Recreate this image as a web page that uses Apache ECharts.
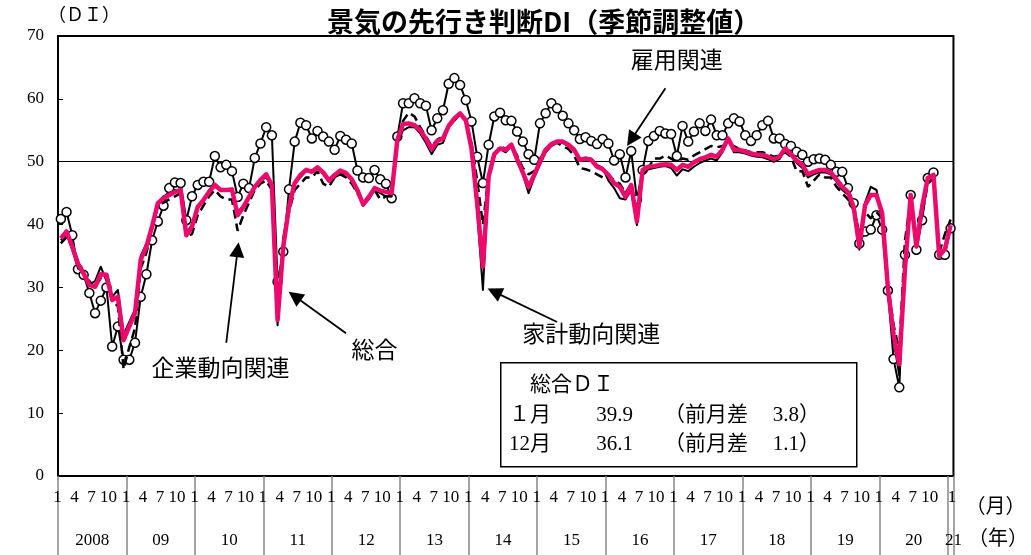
<!DOCTYPE html>
<html><head><meta charset="utf-8">
<script src="https://cdn.jsdelivr.net/npm/echarts@6/dist/echarts.min.js"></script>
<style>html,body{margin:0;padding:0;background:#fff}#c{width:1031px;height:555px}</style>
</head><body><div id="c"></div>
<script>
// ---- data ----
const yearLabels = ['2008','09','10','11','12','13','14','15','16','17','18','19','20','21'];
const monthLabelText = '1  4  7 10';
const categories = [];
for (let y = 2008; y <= 2020; y++) for (let m = 1; m <= 12; m++) categories.push(y + '/' + m);
categories.push('2021/1');

// 総合
const sogo = [
 37.8,38.9,36.5,33.8,32.2,30.4,30.1,32.1,32.0,28.0,28.5,21.6,
 23.8,25.9,34.4,36.5,39.7,43.4,44.2,44.7,45.2,45.5,38.3,39.7,
 42.8,43.9,45.2,46.3,45.5,45.5,45.6,41.5,42.8,44.4,46.0,47.1,
 48.0,46.3,24.8,36.5,42.8,46.6,47.9,48.7,48.4,49.1,48.3,47.0,
 47.9,48.6,48.2,47.2,45.5,43.2,44.4,45.8,45.4,45.2,45.0,53.5,
 56.0,56.1,55.8,55.0,53.7,52.0,53.3,53.7,55.7,56.9,57.7,56.6,
 52.1,43.4,33.3,47.6,51.2,52.1,51.9,52.7,50.4,48.3,46.0,47.9,
 50.0,51.9,52.8,53.2,53.2,52.7,51.9,50.3,50.5,50.3,49.2,48.8,
 47.9,46.6,46.0,44.4,46.3,40.5,48.7,49.2,49.3,49.5,49.6,49.5,
 48.7,49.5,49.2,49.9,50.4,50.7,51.1,50.8,51.9,53.7,51.9,51.9,
 51.6,51.3,51.1,51.1,50.8,50.4,50.8,52.1,51.2,50.2,49.5,48.0,
 48.4,48.7,48.7,48.3,47.2,46.0,45.2,42.8,36.5,43.1,44.7,44.7,
 41.8,30.0,22.5,17.8,33.0,44.7,36.5,42.8,47.4,47.9,35.0,36.1,
 39.9
];
// 家計動向関連
const kakei = [
 37.5,38.5,36.0,33.0,32.5,30.5,31.0,33.3,31.0,28.5,29.6,22.5,
 24.5,26.5,35.0,37.0,40.0,43.5,44.5,45.0,45.5,45.5,38.5,40.0,
 43.0,44.0,45.5,46.5,45.5,45.5,45.5,42.0,43.0,44.5,46.0,47.0,
 47.5,46.0,24.0,38.0,43.0,46.5,47.5,48.5,48.5,49.0,48.0,47.0,
 47.5,48.0,48.0,47.0,45.0,43.0,44.0,45.5,45.0,44.5,44.5,53.0,
 55.0,55.5,55.5,54.5,53.0,51.2,52.7,53.0,55.5,56.5,57.5,56.5,
 51.5,42.0,29.6,47.5,51.0,52.0,51.5,52.5,50.0,48.0,45.0,47.5,
 49.5,51.5,52.5,53.0,53.0,52.5,52.0,50.5,50.5,50.5,49.5,49.0,
 47.0,45.8,44.2,44.0,45.5,39.9,48.0,48.8,49.0,49.2,49.3,49.0,
 47.8,48.8,48.5,49.2,49.8,50.2,50.5,50.2,51.5,53.8,51.5,51.5,
 51.3,51.0,50.8,50.7,50.4,50.0,50.4,52.0,51.0,49.8,49.0,47.5,
 48.0,48.3,48.3,48.0,46.8,45.5,44.8,42.0,36.0,43.5,46.0,45.5,
 41.5,29.0,21.5,16.0,34.0,44.5,37.5,43.5,47.5,48.0,35.0,36.0,
 39.5
];
// 企業動向関連
const kigyo = [
 37.0,38.0,36.5,34.0,32.0,31.0,30.0,31.5,31.5,28.0,27.0,17.0,
 20.5,23.5,33.0,35.5,39.5,43.0,43.5,44.0,44.5,45.0,38.0,38.5,
 41.5,43.0,44.5,45.5,44.5,44.0,44.0,39.0,41.5,43.5,45.5,46.5,
 47.0,45.5,26.0,37.0,42.0,45.5,46.5,47.5,47.5,48.5,46.5,46.0,
 47.5,48.0,47.5,46.5,45.0,43.5,44.5,45.5,44.0,44.5,44.5,53.5,
 56.5,57.8,57.2,55.5,54.0,52.5,53.5,54.0,55.5,57.0,57.5,56.5,
 53.0,47.0,40.0,48.0,51.0,52.5,52.0,52.5,51.0,49.0,48.0,48.5,
 50.5,52.0,53.0,53.0,52.5,52.0,51.0,49.0,48.8,48.5,48.0,47.5,
 48.0,47.0,46.5,45.0,46.5,42.0,48.0,49.0,50.5,50.5,51.0,50.5,
 50.0,50.5,50.3,51.0,51.5,52.0,52.5,52.3,52.5,53.0,52.5,52.0,
 51.8,51.5,51.5,51.5,51.2,50.8,51.0,51.5,50.8,48.5,48.5,46.0,
 47.0,48.0,47.5,47.5,46.0,45.0,44.0,43.0,38.5,42.0,41.0,42.0,
 41.0,30.5,24.0,20.0,37.5,44.0,37.5,41.5,46.5,47.5,35.5,38.5,
 40.8
];
// 雇用関連
const koyo = [
 40.9,42.0,38.3,32.9,32.0,29.1,25.9,27.9,30.0,20.6,23.8,18.5,
 18.5,21.2,28.5,32.1,37.5,40.5,43.0,45.8,46.7,46.6,40.7,44.5,
 46.3,46.8,46.8,50.9,49.1,49.5,48.5,44.4,46.5,45.8,50.6,52.9,
 55.5,54.2,30.9,35.7,45.6,53.2,56.2,55.8,53.7,54.9,54.0,53.2,
 51.9,54.1,53.5,52.9,48.6,47.5,47.4,48.7,47.2,46.5,44.2,54.0,
 59.3,59.3,60.1,59.3,58.9,55.0,56.9,58.2,62.4,63.3,62.2,59.8,
 56.4,50.8,46.6,52.7,57.2,57.8,56.6,56.5,54.8,53.2,51.2,50.3,
 56.1,57.7,59.3,58.5,57.3,56.1,55.0,53.6,53.9,53.3,52.8,53.6,
 52.9,50.2,51.2,47.5,51.7,44.0,48.7,53.3,54.1,54.9,54.5,54.4,
 50.9,55.7,53.2,54.8,56.1,54.9,56.7,54.2,54.2,56.1,56.9,56.4,
 54.2,53.3,54.2,55.8,56.5,53.7,53.7,52.8,52.5,51.6,51.1,50.0,
 50.4,50.5,50.3,49.5,48.4,48.4,45.8,43.4,37.0,38.9,39.2,41.5,
 39.2,29.5,18.6,14.1,35.2,44.7,36.0,40.7,47.4,48.3,35.2,35.2,
 39.4
];
// 総合DI box
const boxTitle = '総合ＤＩ';
const boxRows = [
  { month: '１月', value: '39.9', diff: '3.8' },
  { month: '12月', value: '36.1', diff: '1.1' }
];
// annotations: [label, labelIndex, labelValue, arrowFromIndex, arrowFromValue, arrowToIndex, arrowToValue]
const notes = [
  ['雇用関連', 108, 65.9, 106, 61.7, 100, 53.5],
  ['企業動向関連', 28, 16.9, 29, 21.2, 31, 36.0],
  ['総合', 54.5, 19.8, 50, 22.7, 41, 28.6],
  ['家計動向関連', 93, 22.3, 87, 24.5, 76, 29.3]
];

// ---- chart ----
const serif = '"Liberation Serif","Noto Sans CJK JP",serif';
const jp = '"Noto Sans CJK JP",sans-serif';
const chart = echarts.init(document.getElementById('c'), null, { renderer: 'canvas' });

const boxGraphics = [
  { type: 'rect', left: 500, top: 362, shape: { width: 356, height: 104 },
    style: { fill: '#fff', stroke: '#000', lineWidth: 1.5 }, z: 100 },
  { type: 'text', left: 530, top: 375, style: { text: boxTitle, font: '21px ' + serif, fill: '#000' }, z: 101 }
];
boxRows.forEach((r, k) => {
  const top = 405 + k * 29;
  boxGraphics.push(
    { type: 'text', left: 509, top: top, style: { text: r.month, font: '21px ' + serif, fill: '#000' }, z: 101 },
    { type: 'text', right: 1031 - 633, top: top, style: { text: r.value, font: '21px ' + serif, fill: '#000' }, z: 101 },
    { type: 'text', left: 664, top: top, style: { text: '（前月差', font: '21px ' + serif, fill: '#000' }, z: 101 },
    { type: 'text', right: 1031 - 820, top: top, style: { text: r.diff + '）', font: '21px ' + serif, fill: '#000' }, z: 101 }
  );
});

chart.setOption({
  animation: false,
  backgroundColor: '#fff',
  title: [
    { text: '景気の先行き判断DI（季節調整値）', left: 322, top: 3,
      textStyle: { fontFamily: jp, fontSize: 27, fontWeight: 'bold', color: '#000' } },
    { text: '（ＤＩ）', left: 43, top: 2,
      textStyle: { fontFamily: serif, fontSize: 18, fontWeight: 'normal', color: '#000' } }
  ],
  grid: { left: 58, right: 76, top: 36, bottom: 79, show: true, borderColor: '#000', borderWidth: 2, backgroundColor: 'transparent' },
  xAxis: [
    { type: 'category', data: categories, boundaryGap: true,
      axisLine: { show: false },
      axisTick: { show: true, interval: (i) => i % 12 === 0, length: 79, lineStyle: { color: '#888', width: 1.5 } },
      axisLabel: { interval: (i) => i % 12 === 4 || i === 156, margin: 13, padding: [0, 0, 0, 3],
        formatter: (v, i) => (i === 156 ? '1' : monthLabelText),
        fontFamily: serif, fontSize: 17, color: '#000' },
      name: '（月）', nameLocation: 'end', nameGap: 12,
      nameTextStyle: { fontFamily: serif, fontSize: 20, color: '#000', verticalAlign: 'top', padding: [22, 0, 0, 0] }
    },
    { type: 'category', data: categories, boundaryGap: true, position: 'bottom',
      axisLine: { show: false }, axisTick: { show: false },
      axisLabel: { interval: (i) => i % 12 === 5 || i === 156, margin: 56, padding: [0, 0, 0, 6],
        formatter: (v, i) => yearLabels[Math.floor(i / 12)],
        fontFamily: serif, fontSize: 17, color: '#000' },
      name: '（年）', nameLocation: 'end', nameGap: 12,
      nameTextStyle: { fontFamily: serif, fontSize: 20, color: '#000', verticalAlign: 'top', padding: [54, 0, 0, 0] }
    }
  ],
  yAxis: {
    type: 'value', min: 0, max: 70, interval: 10,
    axisLine: { show: false },
    axisTick: { show: true, inside: true, length: 5, lineStyle: { color: '#000', width: 1 } },
    axisLabel: { margin: 14, fontFamily: serif, fontSize: 17, color: '#000' },
    splitLine: { show: false }
  },
  series: [
    { name: '雇用関連', type: 'line', data: koyo, z: 3,
      symbol: 'circle', symbolSize: 9, showSymbol: true, showAllSymbol: true,
      lineStyle: { color: '#000', width: 2, join: 'round' },
      itemStyle: { color: '#fff', borderColor: '#000', borderWidth: 1.5 },
      markLine: { silent: true, symbol: ['none', 'none'], label: { show: false },
        lineStyle: { color: '#000', width: 1, type: 'solid' }, data: [{ yAxis: 50 }], z: 1 }
    },
    { name: '家計動向関連', type: 'line', data: kakei, z: 4, symbol: 'none',
      lineStyle: { color: '#000', width: 2, join: 'round' },
      markLine: { silent: true, symbol: ['none', 'triangle'], symbolSize: 15, label: { show: false },
        lineStyle: { color: '#000', width: 1.8, type: 'solid' },
        itemStyle: { color: '#000' },
        data: notes.map(n => [{ coord: [n[3], n[4]] }, { coord: [n[5], n[6]] }]) },
      markPoint: { silent: true, symbol: 'circle', symbolSize: 0,
        label: { show: true, position: 'inside', color: '#000', fontFamily: serif, fontSize: 23,
          formatter: (p) => p.name },
        data: notes.map(n => ({ name: n[0], coord: [n[1], n[2]] })) }
    },
    { name: '企業動向関連', type: 'line', data: kigyo, z: 5, symbol: 'none',
      lineStyle: { color: '#000', width: 2.5, type: [9, 5] } },
    { name: '総合', type: 'line', data: sogo, z: 6, symbol: 'none',
      lineStyle: { color: '#EC0A6C', width: 4.5, join: 'round' } }
  ],
  graphic: boxGraphics
});
</script></body></html>
